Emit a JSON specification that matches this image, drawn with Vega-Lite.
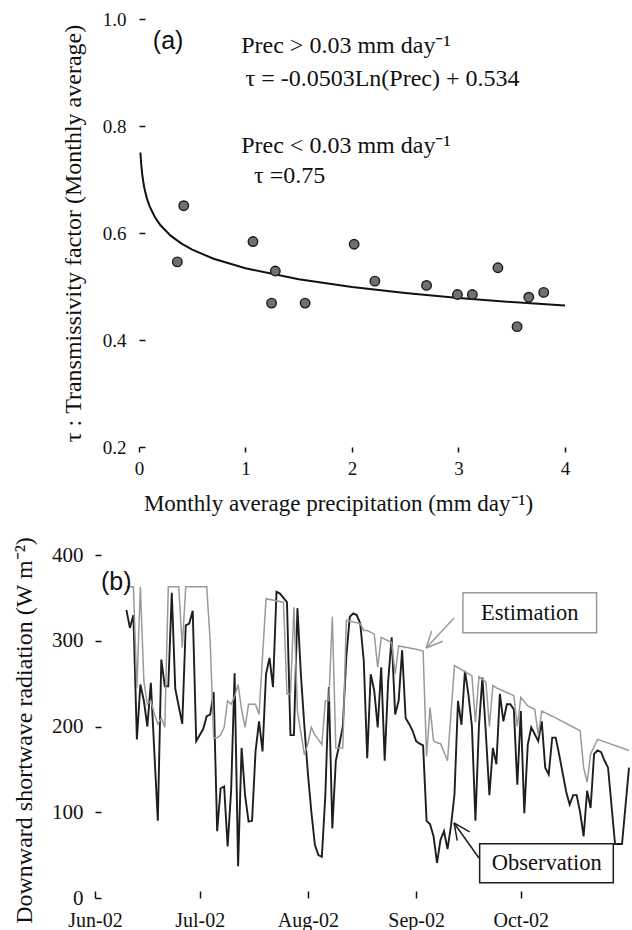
{
  "$schema": "https://vega.github.io/schema/vega-lite/v6.json",
  "background": "white",
  "padding": {"left": 11, "top": 10, "right": 0, "bottom": 0},
  "spacing": 21,
  "config": {
    "font": "Liberation Serif, Times New Roman, serif",
    "view": {"stroke": null},
    "axis": {"grid": false, "domain": false, "labelFont": "Liberation Serif, Times New Roman, serif", "titleFont": "Liberation Serif, Times New Roman, serif", "titleFontWeight": "normal", "labelColor": "#111", "titleColor": "#111", "tickColor": "#111", "tickWidth": 1.5, "labelFlush": false, "labelOverlap": false},
    "text": {"font": "Liberation Serif, Times New Roman, serif", "color": "#111"}
  },
  "vconcat": [
    {
      "width": 470,
      "height": 428,
      "layer": [
        {
          "data": {"values": [
            {"prec": 0.0135, "tau": 0.7505}, {"prec": 0.02, "tau": 0.7308}, {"prec": 0.03, "tau": 0.7104}, {"prec": 0.04, "tau": 0.6959},
            {"prec": 0.05, "tau": 0.6847}, {"prec": 0.06, "tau": 0.6755}, {"prec": 0.075, "tau": 0.6643}, {"prec": 0.1, "tau": 0.6498},
            {"prec": 0.15, "tau": 0.6294}, {"prec": 0.2, "tau": 0.6149}, {"prec": 0.3, "tau": 0.5946}, {"prec": 0.4, "tau": 0.5801},
            {"prec": 0.5, "tau": 0.5689}, {"prec": 0.7, "tau": 0.5519}, {"prec": 1.0, "tau": 0.534}, {"prec": 1.5, "tau": 0.5136},
            {"prec": 2.0, "tau": 0.4991}, {"prec": 2.5, "tau": 0.4879}, {"prec": 3.0, "tau": 0.4787}, {"prec": 3.5, "tau": 0.471},
            {"prec": 4.0, "tau": 0.4643}
          ]},
          "mark": {"type": "line", "color": "#111", "strokeWidth": 2},
          "encoding": {
            "x": {"field": "prec", "type": "quantitative",
              "scale": {"domain": [-0.413, 4], "nice": false, "zero": false},
              "axis": {"values": [0, 1, 2, 3, 4], "format": "d", "labelFont": "Liberation Serif, Times New Roman, serif", "labelFontSize": 19, "tickSize": 5, "labelPadding": 7,
                "title": "Monthly average precipitation  (mm day⁻¹)", "titleFont": "Liberation Serif, Times New Roman, serif", "titleFontSize": 23, "titleX": 243, "titleY": 45, "titleAlign": "center", "titleBaseline": "top"}},
            "y": {"field": "tau", "type": "quantitative",
              "scale": {"domain": [0.2, 1.0], "nice": false, "zero": false},
              "axis": {"values": [0.2, 0.4, 0.6, 0.8, 1.0], "format": ".1f", "labelFont": "Liberation Serif, Times New Roman, serif", "labelFontSize": 19, "tickSize": -6, "labelPadding": 19, "offset": -44,
                "title": "τ : Transmissivity factor (Monthly average)", "titleFont": "Liberation Serif, Times New Roman, serif", "titleFontSize": 24, "titleX": -54, "titleY": 214, "titleAngle": 270, "titleAlign": "center", "titleBaseline": "bottom"}}
          }
        },
        {
          "data": {"values": [
            {"prec": 0.36, "tau": 0.546}, {"prec": 0.42, "tau": 0.651}, {"prec": 1.07, "tau": 0.584}, {"prec": 1.245, "tau": 0.469},
            {"prec": 1.28, "tau": 0.529}, {"prec": 1.56, "tau": 0.469}, {"prec": 2.02, "tau": 0.579}, {"prec": 2.215, "tau": 0.51},
            {"prec": 2.7, "tau": 0.502}, {"prec": 2.99, "tau": 0.485}, {"prec": 3.13, "tau": 0.485}, {"prec": 3.37, "tau": 0.535},
            {"prec": 3.55, "tau": 0.425}, {"prec": 3.66, "tau": 0.48}, {"prec": 3.8, "tau": 0.489}
          ]},
          "mark": {"type": "point", "shape": "circle", "filled": true, "size": 90, "color": "#707070", "stroke": "#1a1a1a", "strokeWidth": 1.4, "opacity": 1},
          "encoding": {
            "x": {"field": "prec", "type": "quantitative"},
            "y": {"field": "tau", "type": "quantitative"}
          }
        },
        {
          "data": {"values": [
            {"prec": 0.96, "tau": 0.95, "label": "Prec > 0.03 mm day⁻¹"},
            {"prec": 1.0, "tau": 0.888, "label": "τ = -0.0503Ln(Prec) + 0.534"},
            {"prec": 0.96, "tau": 0.763, "label": "Prec < 0.03 mm day⁻¹"},
            {"prec": 1.08, "tau": 0.707, "label": "τ =0.75"}
          ]},
          "mark": {"type": "text", "align": "left", "baseline": "middle", "fontSize": 24, "font": "Liberation Serif, Times New Roman, serif"},
          "encoding": {
            "x": {"field": "prec", "type": "quantitative"},
            "y": {"field": "tau", "type": "quantitative"},
            "text": {"field": "label"}
          }
        },
        {
          "data": {"values": [{"prec": 0.13, "tau": 0.959, "label": "(a)"}]},
          "mark": {"type": "text", "align": "left", "baseline": "middle", "fontSize": 25, "font": "Liberation Sans, Arial, sans-serif"},
          "encoding": {
            "x": {"field": "prec", "type": "quantitative"},
            "y": {"field": "tau", "type": "quantitative"},
            "text": {"field": "label"}
          }
        },
        {
          "mark": {"type": "rect", "filled": false, "stroke": "#111", "strokeWidth": 2},
          "encoding": {
            "x": {"datum": 0, "type": "quantitative"},
            "x2": {"datum": 4},
            "y": {"datum": 0.2, "type": "quantitative"},
            "y2": {"datum": 1.0}
          }
        }
      ]
    },
    {
      "width": 534,
      "height": 343,
      "layer": [
        {
          "data": {"values": [
            {"date": "2002-06-10", "series": "Observation", "radiation": 336},
            {"date": "2002-06-11", "series": "Observation", "radiation": 315},
            {"date": "2002-06-12", "series": "Observation", "radiation": 330},
            {"date": "2002-06-13", "series": "Observation", "radiation": 185},
            {"date": "2002-06-14", "series": "Observation", "radiation": 249},
            {"date": "2002-06-15", "series": "Observation", "radiation": 230},
            {"date": "2002-06-16", "series": "Observation", "radiation": 200},
            {"date": "2002-06-17", "series": "Observation", "radiation": 251},
            {"date": "2002-06-19", "series": "Observation", "radiation": 90},
            {"date": "2002-06-20", "series": "Observation", "radiation": 278},
            {"date": "2002-06-21", "series": "Observation", "radiation": 247},
            {"date": "2002-06-22", "series": "Observation", "radiation": 247},
            {"date": "2002-06-23", "series": "Observation", "radiation": 356},
            {"date": "2002-06-24", "series": "Observation", "radiation": 244},
            {"date": "2002-06-26", "series": "Observation", "radiation": 203},
            {"date": "2002-06-27", "series": "Observation", "radiation": 318},
            {"date": "2002-06-28", "series": "Observation", "radiation": 320},
            {"date": "2002-06-29", "series": "Observation", "radiation": 335},
            {"date": "2002-06-30", "series": "Observation", "radiation": 183},
            {"date": "2002-07-02", "series": "Observation", "radiation": 197},
            {"date": "2002-07-03", "series": "Observation", "radiation": 212},
            {"date": "2002-07-04", "series": "Observation", "radiation": 214},
            {"date": "2002-07-05", "series": "Observation", "radiation": 240},
            {"date": "2002-07-06", "series": "Observation", "radiation": 78},
            {"date": "2002-07-07", "series": "Observation", "radiation": 128},
            {"date": "2002-07-08", "series": "Observation", "radiation": 130},
            {"date": "2002-07-09", "series": "Observation", "radiation": 60},
            {"date": "2002-07-10", "series": "Observation", "radiation": 125},
            {"date": "2002-07-11", "series": "Observation", "radiation": 262},
            {"date": "2002-07-12", "series": "Observation", "radiation": 37},
            {"date": "2002-07-13", "series": "Observation", "radiation": 175},
            {"date": "2002-07-14", "series": "Observation", "radiation": 120},
            {"date": "2002-07-15", "series": "Observation", "radiation": 89},
            {"date": "2002-07-16", "series": "Observation", "radiation": 90},
            {"date": "2002-07-17", "series": "Observation", "radiation": 171},
            {"date": "2002-07-18", "series": "Observation", "radiation": 206},
            {"date": "2002-07-19", "series": "Observation", "radiation": 171},
            {"date": "2002-07-20", "series": "Observation", "radiation": 261},
            {"date": "2002-07-21", "series": "Observation", "radiation": 280},
            {"date": "2002-07-22", "series": "Observation", "radiation": 246},
            {"date": "2002-07-23", "series": "Observation", "radiation": 357},
            {"date": "2002-07-24", "series": "Observation", "radiation": 355},
            {"date": "2002-07-25", "series": "Observation", "radiation": 350},
            {"date": "2002-07-26", "series": "Observation", "radiation": 345},
            {"date": "2002-07-27", "series": "Observation", "radiation": 190},
            {"date": "2002-07-28", "series": "Observation", "radiation": 190},
            {"date": "2002-07-29", "series": "Observation", "radiation": 338},
            {"date": "2002-07-30", "series": "Observation", "radiation": 260},
            {"date": "2002-07-31", "series": "Observation", "radiation": 200},
            {"date": "2002-08-01", "series": "Observation", "radiation": 145},
            {"date": "2002-08-02", "series": "Observation", "radiation": 100},
            {"date": "2002-08-03", "series": "Observation", "radiation": 62},
            {"date": "2002-08-04", "series": "Observation", "radiation": 50},
            {"date": "2002-08-05", "series": "Observation", "radiation": 48},
            {"date": "2002-08-06", "series": "Observation", "radiation": 120},
            {"date": "2002-08-07", "series": "Observation", "radiation": 246},
            {"date": "2002-08-08", "series": "Observation", "radiation": 81},
            {"date": "2002-08-09", "series": "Observation", "radiation": 160},
            {"date": "2002-08-10", "series": "Observation", "radiation": 179},
            {"date": "2002-08-11", "series": "Observation", "radiation": 200},
            {"date": "2002-08-12", "series": "Observation", "radiation": 281},
            {"date": "2002-08-13", "series": "Observation", "radiation": 328},
            {"date": "2002-08-14", "series": "Observation", "radiation": 332},
            {"date": "2002-08-15", "series": "Observation", "radiation": 330},
            {"date": "2002-08-16", "series": "Observation", "radiation": 320},
            {"date": "2002-08-17", "series": "Observation", "radiation": 277},
            {"date": "2002-08-18", "series": "Observation", "radiation": 163},
            {"date": "2002-08-19", "series": "Observation", "radiation": 261},
            {"date": "2002-08-20", "series": "Observation", "radiation": 242},
            {"date": "2002-08-21", "series": "Observation", "radiation": 199},
            {"date": "2002-08-22", "series": "Observation", "radiation": 269},
            {"date": "2002-08-23", "series": "Observation", "radiation": 160},
            {"date": "2002-08-24", "series": "Observation", "radiation": 253},
            {"date": "2002-08-25", "series": "Observation", "radiation": 304},
            {"date": "2002-08-26", "series": "Observation", "radiation": 214},
            {"date": "2002-08-27", "series": "Observation", "radiation": 230},
            {"date": "2002-08-28", "series": "Observation", "radiation": 289},
            {"date": "2002-08-29", "series": "Observation", "radiation": 210},
            {"date": "2002-08-30", "series": "Observation", "radiation": 203},
            {"date": "2002-08-31", "series": "Observation", "radiation": 195},
            {"date": "2002-09-01", "series": "Observation", "radiation": 183},
            {"date": "2002-09-02", "series": "Observation", "radiation": 180},
            {"date": "2002-09-03", "series": "Observation", "radiation": 178},
            {"date": "2002-09-04", "series": "Observation", "radiation": 90},
            {"date": "2002-09-05", "series": "Observation", "radiation": 86},
            {"date": "2002-09-06", "series": "Observation", "radiation": 72},
            {"date": "2002-09-07", "series": "Observation", "radiation": 41},
            {"date": "2002-09-08", "series": "Observation", "radiation": 68},
            {"date": "2002-09-09", "series": "Observation", "radiation": 78},
            {"date": "2002-09-10", "series": "Observation", "radiation": 57},
            {"date": "2002-09-11", "series": "Observation", "radiation": 84},
            {"date": "2002-09-12", "series": "Observation", "radiation": 121},
            {"date": "2002-09-13", "series": "Observation", "radiation": 230},
            {"date": "2002-09-14", "series": "Observation", "radiation": 202},
            {"date": "2002-09-15", "series": "Observation", "radiation": 265},
            {"date": "2002-09-16", "series": "Observation", "radiation": 237},
            {"date": "2002-09-17", "series": "Observation", "radiation": 200},
            {"date": "2002-09-18", "series": "Observation", "radiation": 90},
            {"date": "2002-09-19", "series": "Observation", "radiation": 200},
            {"date": "2002-09-20", "series": "Observation", "radiation": 257},
            {"date": "2002-09-21", "series": "Observation", "radiation": 191},
            {"date": "2002-09-22", "series": "Observation", "radiation": 120},
            {"date": "2002-09-23", "series": "Observation", "radiation": 175},
            {"date": "2002-09-24", "series": "Observation", "radiation": 156},
            {"date": "2002-09-25", "series": "Observation", "radiation": 238},
            {"date": "2002-09-26", "series": "Observation", "radiation": 206},
            {"date": "2002-09-27", "series": "Observation", "radiation": 226},
            {"date": "2002-09-28", "series": "Observation", "radiation": 226},
            {"date": "2002-09-29", "series": "Observation", "radiation": 220},
            {"date": "2002-09-30", "series": "Observation", "radiation": 132},
            {"date": "2002-10-01", "series": "Observation", "radiation": 218},
            {"date": "2002-10-02", "series": "Observation", "radiation": 99},
            {"date": "2002-10-03", "series": "Observation", "radiation": 179},
            {"date": "2002-10-04", "series": "Observation", "radiation": 199},
            {"date": "2002-10-05", "series": "Observation", "radiation": 191},
            {"date": "2002-10-06", "series": "Observation", "radiation": 183},
            {"date": "2002-10-07", "series": "Observation", "radiation": 206},
            {"date": "2002-10-08", "series": "Observation", "radiation": 152},
            {"date": "2002-10-09", "series": "Observation", "radiation": 144},
            {"date": "2002-10-10", "series": "Observation", "radiation": 187},
            {"date": "2002-10-11", "series": "Observation", "radiation": 187},
            {"date": "2002-10-12", "series": "Observation", "radiation": 167},
            {"date": "2002-10-14", "series": "Observation", "radiation": 124},
            {"date": "2002-10-15", "series": "Observation", "radiation": 109},
            {"date": "2002-10-16", "series": "Observation", "radiation": 120},
            {"date": "2002-10-17", "series": "Observation", "radiation": 120},
            {"date": "2002-10-18", "series": "Observation", "radiation": 100},
            {"date": "2002-10-19", "series": "Observation", "radiation": 72},
            {"date": "2002-10-20", "series": "Observation", "radiation": 125},
            {"date": "2002-10-21", "series": "Observation", "radiation": 105},
            {"date": "2002-10-22", "series": "Observation", "radiation": 168},
            {"date": "2002-10-23", "series": "Observation", "radiation": 172},
            {"date": "2002-10-24", "series": "Observation", "radiation": 170},
            {"date": "2002-10-25", "series": "Observation", "radiation": 160},
            {"date": "2002-10-26", "series": "Observation", "radiation": 152},
            {"date": "2002-10-28", "series": "Observation", "radiation": 63},
            {"date": "2002-10-30", "series": "Observation", "radiation": 63},
            {"date": "2002-11-01", "series": "Observation", "radiation": 152},
            {"date": "2002-06-10", "series": "Estimation", "radiation": 363},
            {"date": "2002-06-12", "series": "Estimation", "radiation": 363},
            {"date": "2002-06-13", "series": "Estimation", "radiation": 245},
            {"date": "2002-06-14", "series": "Estimation", "radiation": 363},
            {"date": "2002-06-15", "series": "Estimation", "radiation": 253},
            {"date": "2002-06-16", "series": "Estimation", "radiation": 226},
            {"date": "2002-06-17", "series": "Estimation", "radiation": 230},
            {"date": "2002-06-18", "series": "Estimation", "radiation": 215},
            {"date": "2002-06-19", "series": "Estimation", "radiation": 203},
            {"date": "2002-06-20", "series": "Estimation", "radiation": 210},
            {"date": "2002-06-21", "series": "Estimation", "radiation": 199},
            {"date": "2002-06-22", "series": "Estimation", "radiation": 363},
            {"date": "2002-06-25", "series": "Estimation", "radiation": 363},
            {"date": "2002-06-26", "series": "Estimation", "radiation": 292},
            {"date": "2002-06-27", "series": "Estimation", "radiation": 363},
            {"date": "2002-07-03", "series": "Estimation", "radiation": 363},
            {"date": "2002-07-04", "series": "Estimation", "radiation": 300},
            {"date": "2002-07-05", "series": "Estimation", "radiation": 187},
            {"date": "2002-07-06", "series": "Estimation", "radiation": 187},
            {"date": "2002-07-07", "series": "Estimation", "radiation": 190},
            {"date": "2002-07-08", "series": "Estimation", "radiation": 199},
            {"date": "2002-07-09", "series": "Estimation", "radiation": 230},
            {"date": "2002-07-10", "series": "Estimation", "radiation": 226},
            {"date": "2002-07-11", "series": "Estimation", "radiation": 235},
            {"date": "2002-07-12", "series": "Estimation", "radiation": 249},
            {"date": "2002-07-13", "series": "Estimation", "radiation": 220},
            {"date": "2002-07-14", "series": "Estimation", "radiation": 199},
            {"date": "2002-07-15", "series": "Estimation", "radiation": 226},
            {"date": "2002-07-17", "series": "Estimation", "radiation": 226},
            {"date": "2002-07-18", "series": "Estimation", "radiation": 214},
            {"date": "2002-07-20", "series": "Estimation", "radiation": 349},
            {"date": "2002-07-25", "series": "Estimation", "radiation": 345},
            {"date": "2002-07-26", "series": "Estimation", "radiation": 238},
            {"date": "2002-07-27", "series": "Estimation", "radiation": 238},
            {"date": "2002-07-28", "series": "Estimation", "radiation": 339},
            {"date": "2002-07-29", "series": "Estimation", "radiation": 218},
            {"date": "2002-07-31", "series": "Estimation", "radiation": 167},
            {"date": "2002-08-01", "series": "Estimation", "radiation": 180},
            {"date": "2002-08-02", "series": "Estimation", "radiation": 199},
            {"date": "2002-08-03", "series": "Estimation", "radiation": 190},
            {"date": "2002-08-04", "series": "Estimation", "radiation": 185},
            {"date": "2002-08-05", "series": "Estimation", "radiation": 179},
            {"date": "2002-08-06", "series": "Estimation", "radiation": 230},
            {"date": "2002-08-07", "series": "Estimation", "radiation": 230},
            {"date": "2002-08-08", "series": "Estimation", "radiation": 328},
            {"date": "2002-08-09", "series": "Estimation", "radiation": 175},
            {"date": "2002-08-11", "series": "Estimation", "radiation": 175},
            {"date": "2002-08-12", "series": "Estimation", "radiation": 324},
            {"date": "2002-08-16", "series": "Estimation", "radiation": 320},
            {"date": "2002-08-17", "series": "Estimation", "radiation": 312},
            {"date": "2002-08-18", "series": "Estimation", "radiation": 312},
            {"date": "2002-08-20", "series": "Estimation", "radiation": 308},
            {"date": "2002-08-21", "series": "Estimation", "radiation": 269},
            {"date": "2002-08-22", "series": "Estimation", "radiation": 304},
            {"date": "2002-08-25", "series": "Estimation", "radiation": 298},
            {"date": "2002-08-26", "series": "Estimation", "radiation": 261},
            {"date": "2002-08-27", "series": "Estimation", "radiation": 294},
            {"date": "2002-09-01", "series": "Estimation", "radiation": 290},
            {"date": "2002-09-03", "series": "Estimation", "radiation": 288},
            {"date": "2002-09-04", "series": "Estimation", "radiation": 165},
            {"date": "2002-09-05", "series": "Estimation", "radiation": 222},
            {"date": "2002-09-06", "series": "Estimation", "radiation": 183},
            {"date": "2002-09-07", "series": "Estimation", "radiation": 181},
            {"date": "2002-09-08", "series": "Estimation", "radiation": 180},
            {"date": "2002-09-10", "series": "Estimation", "radiation": 160},
            {"date": "2002-09-12", "series": "Estimation", "radiation": 271},
            {"date": "2002-09-17", "series": "Estimation", "radiation": 259},
            {"date": "2002-09-18", "series": "Estimation", "radiation": 205},
            {"date": "2002-09-19", "series": "Estimation", "radiation": 258},
            {"date": "2002-09-21", "series": "Estimation", "radiation": 252},
            {"date": "2002-09-22", "series": "Estimation", "radiation": 200},
            {"date": "2002-09-23", "series": "Estimation", "radiation": 248},
            {"date": "2002-09-24", "series": "Estimation", "radiation": 245},
            {"date": "2002-09-29", "series": "Estimation", "radiation": 236},
            {"date": "2002-09-30", "series": "Estimation", "radiation": 200},
            {"date": "2002-10-01", "series": "Estimation", "radiation": 234},
            {"date": "2002-10-03", "series": "Estimation", "radiation": 224},
            {"date": "2002-10-05", "series": "Estimation", "radiation": 220},
            {"date": "2002-10-06", "series": "Estimation", "radiation": 190},
            {"date": "2002-10-07", "series": "Estimation", "radiation": 218},
            {"date": "2002-10-10", "series": "Estimation", "radiation": 212},
            {"date": "2002-10-18", "series": "Estimation", "radiation": 195},
            {"date": "2002-10-19", "series": "Estimation", "radiation": 152},
            {"date": "2002-10-20", "series": "Estimation", "radiation": 135},
            {"date": "2002-10-21", "series": "Estimation", "radiation": 168},
            {"date": "2002-10-23", "series": "Estimation", "radiation": 185},
            {"date": "2002-11-01", "series": "Estimation", "radiation": 172}
          ]},
          "mark": {"type": "line", "interpolate": "linear"},
          "encoding": {
            "x": {"field": "date", "type": "temporal",
              "scale": {"type": "utc", "domain": [{"year": 2002, "month": 6, "date": 1, "utc": true}, {"year": 2002, "month": 11, "date": 1, "utc": true}]},
              "axis": {"values": [
                {"year": 2002, "month": 6, "date": 1, "utc": true},
                {"year": 2002, "month": 7, "date": 1, "utc": true},
                {"year": 2002, "month": 8, "date": 1, "utc": true},
                {"year": 2002, "month": 9, "date": 1, "utc": true},
                {"year": 2002, "month": 10, "date": 1, "utc": true}],
                "format": "%b-%y", "labelFont": "Liberation Serif, Times New Roman, serif", "labelFontSize": 20, "tickSize": -7, "labelPadding": 19, "title": null}},
            "y": {"field": "radiation", "type": "quantitative",
              "scale": {"domain": [0, 400], "nice": false},
              "axis": {"values": [0, 100, 200, 300, 400], "labelFont": "Liberation Serif, Times New Roman, serif", "labelFontSize": 21, "tickSize": -6, "labelPadding": 18,
                "title": "Downward shortwave radiation (W m⁻²)", "titleFont": "Liberation Serif, Times New Roman, serif", "titleFontSize": 24, "titleX": -59, "titleY": 175, "titleAngle": 270, "titleAlign": "center", "titleBaseline": "bottom"}},
            "color": {"field": "series", "type": "nominal", "scale": {"domain": ["Estimation", "Observation"], "range": ["#9a9a9a", "#1e1e1e"]}, "legend": null},
            "strokeWidth": {"field": "series", "type": "nominal", "scale": {"domain": ["Estimation", "Observation"], "range": [1.5, 1.9]}, "legend": null}
          }
        },
        {
          "data": {"values": [
            {"date": "2002-09-14T10:00:00Z", "date2": "2002-10-22T17:00:00Z", "radiation": 356, "radiation2": 309.4, "series": "Estimation"},
            {"date": "2002-09-19T05:00:00Z", "date2": "2002-10-27T12:00:00Z", "radiation": 63.4, "radiation2": 17.9, "series": "Observation"}
          ]},
          "mark": {"type": "rect", "fill": "white", "strokeWidth": 1.5},
          "encoding": {
            "x": {"field": "date", "type": "temporal"},
            "x2": {"field": "date2"},
            "y": {"field": "radiation", "type": "quantitative"},
            "y2": {"field": "radiation2"},
            "stroke": {"field": "series", "type": "nominal", "scale": {"domain": ["Estimation", "Observation"], "range": ["#9a9a9a", "#1e1e1e"]}, "legend": null}
          }
        },
        {
          "data": {"values": [
            {"date": "2002-10-03T14:00:00Z", "radiation": 332, "label": "Estimation"},
            {"date": "2002-10-08T10:00:00Z", "radiation": 40.8, "label": "Observation"}
          ]},
          "mark": {"type": "text", "align": "center", "baseline": "middle", "fontSize": 22.5, "font": "Liberation Serif, Times New Roman, serif"},
          "encoding": {
            "x": {"field": "date", "type": "temporal"},
            "y": {"field": "radiation", "type": "quantitative"},
            "text": {"field": "label"}
          }
        },
        {
          "data": {"values": [
            {"date": "2002-09-11T21:00:00Z", "date2": "2002-09-03T21:00:00Z", "radiation": 326.5, "radiation2": 291.5, "series": "Estimation"},
            {"date": "2002-09-08T15:00:00Z", "date2": "2002-09-03T21:00:00Z", "radiation": 299.4, "radiation2": 291.5, "series": "Estimation"},
            {"date": "2002-09-05T11:00:00Z", "date2": "2002-09-03T21:00:00Z", "radiation": 311.5, "radiation2": 291.5, "series": "Estimation"},
            {"date": "2002-09-19T00:00:00Z", "date2": "2002-09-11T21:00:00Z", "radiation": 46.6, "radiation2": 87.5, "series": "Observation"},
            {"date": "2002-09-12T19:00:00Z", "date2": "2002-09-11T21:00:00Z", "radiation": 66.8, "radiation2": 87.5, "series": "Observation"},
            {"date": "2002-09-16T08:00:00Z", "date2": "2002-09-11T21:00:00Z", "radiation": 77.2, "radiation2": 87.5, "series": "Observation"}
          ]},
          "mark": {"type": "rule", "strokeWidth": 1.5},
          "encoding": {
            "x": {"field": "date", "type": "temporal"},
            "x2": {"field": "date2"},
            "y": {"field": "radiation", "type": "quantitative"},
            "y2": {"field": "radiation2"},
            "color": {"field": "series", "type": "nominal", "legend": null}
          }
        },
        {
          "data": {"values": [{"date": "2002-06-02T17:00:00Z", "radiation": 369, "label": "(b)"}]},
          "mark": {"type": "text", "align": "left", "baseline": "middle", "fontSize": 25, "font": "Liberation Sans, Arial, sans-serif"},
          "encoding": {
            "x": {"field": "date", "type": "temporal"},
            "y": {"field": "radiation", "type": "quantitative"},
            "text": {"field": "label"}
          }
        },
        {
          "mark": {"type": "rect", "filled": false, "stroke": "#111", "strokeWidth": 2},
          "encoding": {
            "x": {"datum": {"year": 2002, "month": 6, "date": 1, "utc": true}, "type": "temporal"},
            "x2": {"datum": {"year": 2002, "month": 11, "date": 1, "utc": true}},
            "y": {"datum": 0, "type": "quantitative"},
            "y2": {"datum": 400}
          }
        }
      ]
    }
  ]
}
